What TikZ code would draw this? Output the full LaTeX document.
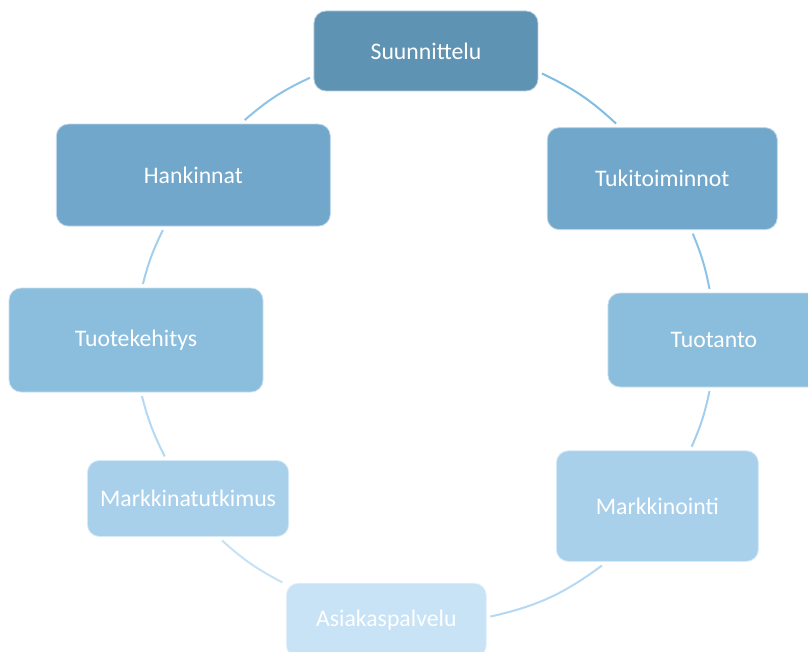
\documentclass[tikz,border=0pt]{standalone}
\usepackage{fontspec}
\setmainfont{Carlito}
\usepackage{xcolor}

\definecolor{lvA}{HTML}{5F93B3}
\definecolor{lvB}{HTML}{71A7CA}
\definecolor{lvC}{HTML}{8BBDDC}
\definecolor{lvD}{HTML}{A9D0EB}
\definecolor{lvE}{HTML}{C8E2F6}
\definecolor{arcA}{HTML}{80BDE5}
\definecolor{arcB}{HTML}{8DC3E6}
\definecolor{arcC}{HTML}{A3CFED}
\definecolor{arcD}{HTML}{B5D9F2}
\definecolor{arcE}{HTML}{C6E2F6}

\begin{document}
\begin{tikzpicture}[x=0.75pt, y=0.75pt,
  phase/.style={draw=white!55!#1, fill=#1, line width=0.6pt, rounded corners=9pt,
                inner sep=0pt, outer sep=3pt, align=center, text=white,
                font=\fontsize{17.8}{21}\selectfont},
  link/.style={draw=#1, line width=1.5pt}]

  \useasboundingbox (-426,-314) rectangle (382,338);
  \clip (-426,-314) rectangle (382,338);

  \node[phase=lvA, minimum width=168pt,   minimum height=60pt]   (sun) at (90:287)   {Suunnittelu};
  \node[phase=lvB, minimum width=172.5pt, minimum height=76.5pt] (tuk) at (34:285)   {Tukitoiminnot};
  \node[phase=lvC, minimum width=159pt,   minimum height=70.5pt] (tuo) at (-0.4:288) {Tuotanto};
  \node[phase=lvD, minimum width=151.5pt, minimum height=83pt]   (mar) at (-36:286)  {Markkinointi};
  \node[phase=lvE, minimum width=150pt,   minimum height=55.5pt] (asi) at (-98:285)  {Asiakaspalvelu};
  \node[phase=lvD, minimum width=151pt,   minimum height=57pt]   (mtu) at (-146:287) {Markkinatutkimus};
  \node[phase=lvC, minimum width=190.5pt, minimum height=78pt]   (tke) at (180.4:290){Tuotekehitys};
  \node[phase=lvB, minimum width=205.5pt, minimum height=76.5pt] (han) at (145:284)  {Hankinnat};

  \draw[link=arcA] (sun.-11.8)  to[bend left=8.7]  (tuk.130.5);
  \draw[link=arcB] (tuk.-61.4)  to[bend left=5.7]  (tuo.95.6);
  \draw[link=arcC] (tuo.-95.5)  to[bend left=5.9]  (mar.60.8);
  \draw[link=arcD] (mar.-133.8) to[bend left=11.9] (asi.2.3);
  \draw[link=arcE] (asi.160.4)  to[bend left=7.3]  (mtu.-51.3);
  \draw[link=arcD] (mtu.119)    to[bend left=6.1]  (tke.-84.3);
  \draw[link=arcC] (tke.83.5)   to[bend left=5.8]  (han.-119.3);
  \draw[link=arcB] (han.47.4)   to[bend left=8]    (sun.-167.8);
\end{tikzpicture}
\end{document}
